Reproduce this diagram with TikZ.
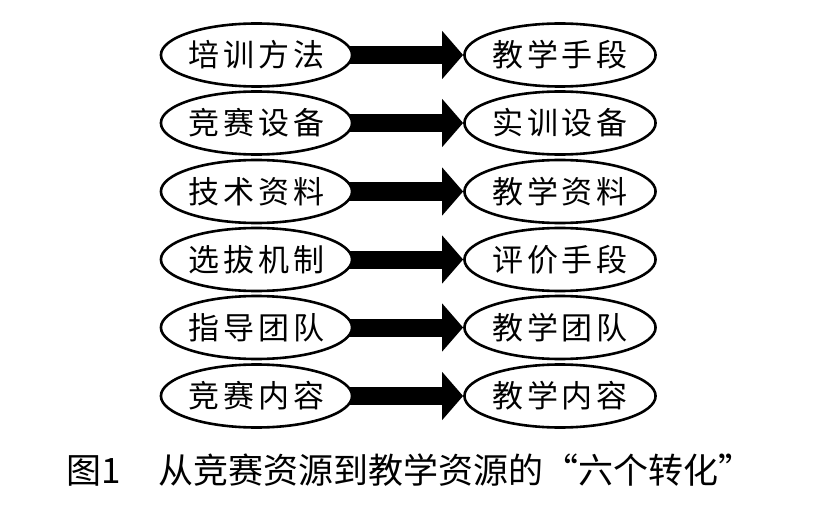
\documentclass[tikz,border=0pt]{standalone}
\usepackage{fontspec}
\usepackage{tikz}
\usetikzlibrary{shapes.geometric,arrows.meta,backgrounds}
\newfontfamily\cjk[LetterSpace=12]{Noto Sans CJK SC}
\newfontfamily\cjkcap{Noto Sans CJK SC}

\begin{document}
\begin{tikzpicture}[x=1pt,y=1pt,yscale=-1,xscale=1,
  oval/.style={draw,ellipse,line width=2.6pt,fill=white,minimum width=191pt,minimum height=63pt,inner sep=0pt,font=\cjk\fontsize{31}{36}\selectfont},
  fatarrow/.style={line width=18pt,-{Triangle[length=21pt,width=47pt]}}]
\useasboundingbox (0,0) rectangle (837,505);

%Shape: Ellipse (left column)
\node [oval] (src1) at (256.5,55) {培训方法};
\node [oval] (src2) at (256.5,123) {竞赛设备};
\node [oval] (src3) at (256.5,191.5) {技术资料};
\node [oval] (src4) at (256.5,259.5) {选拔机制};
\node [oval] (src5) at (256.5,327.5) {指导团队};
\node [oval] (src6) at (256.5,396) {竞赛内容};

%Shape: Ellipse (right column)
\node [oval] (dst1) at (560,55) {教学手段};
\node [oval] (dst2) at (560,123) {实训设备};
\node [oval] (dst3) at (560,191.5) {教学资料};
\node [oval] (dst4) at (560,259.5) {评价手段};
\node [oval] (dst5) at (560,327.5) {教学团队};
\node [oval] (dst6) at (560,396) {教学内容};

%Straight Lines (thick arrows)
\begin{scope}[on background layer]
\draw [fatarrow] ([xshift=-6pt]src1.east) -- (dst1.west);
\draw [fatarrow] ([xshift=-6pt]src2.east) -- (dst2.west);
\draw [fatarrow] ([xshift=-6pt]src3.east) -- (dst3.west);
\draw [fatarrow] ([xshift=-6pt]src4.east) -- (dst4.west);
\draw [fatarrow] ([xshift=-6pt]src5.east) -- (dst5.west);
\draw [fatarrow] ([xshift=-6pt]src6.east) -- (dst6.west);
\end{scope}

% Text Node
\node [inner sep=0pt,font=\cjkcap\fontsize{35}{40}\selectfont] (caption) at (410,470) {图1\hspace{1.1em}从竞赛资源到教学资源的“六个转化”};

\end{tikzpicture}
\end{document}
